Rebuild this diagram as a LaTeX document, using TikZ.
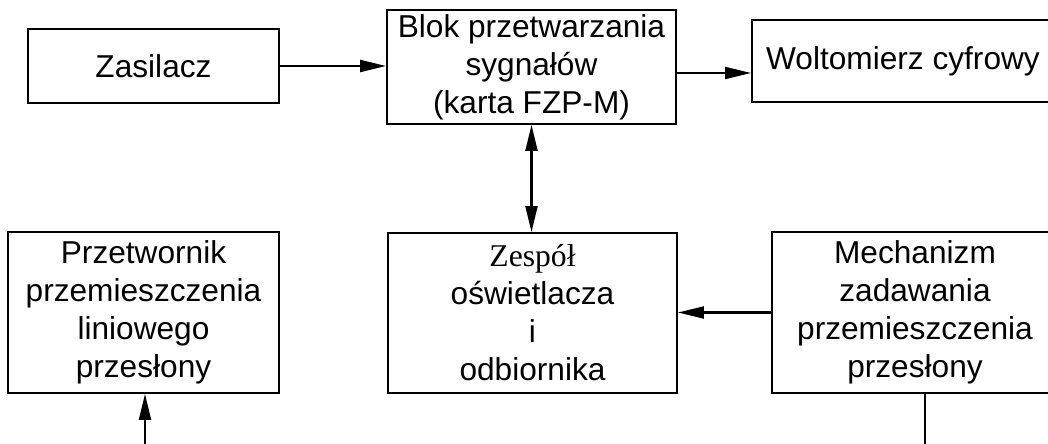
\documentclass[tikz,border=0pt]{standalone}
\usepackage{fontspec}
\setmainfont{Liberation Sans}
\newfontfamily\timesfont{Liberation Serif}
\usetikzlibrary{arrows.meta}

\begin{document}
\begin{tikzpicture}[x=0.025cm, y=-0.025cm,
	box/.style={draw, line width=1.3pt, align=center, inner sep=0pt,
		font=\fontsize{22.5}{27}\selectfont},
	link/.style={line width=1.5pt, -{Triangle[length=6.5mm, width=3mm]}}]

	% frame of the picture
	\useasboundingbox (0,0) rectangle (1048,444);
	\clip (0,0) rectangle (1048,444);

	% upper row
	\node[box, minimum width=6.275cm, minimum height=1.85cm] (zas) at (153.5,66) {Zasilacz};
	\node[box, minimum width=7.225cm, minimum height=2.85cm] (blok) at (531.5,67)
		{Blok przetwarzania\\sygnałów\\(karta FZP-M)};
	\node[box, minimum width=7.55cm, minimum height=2.05cm] (wolt) at (903,61) {Woltomierz cyfrowy};

	% lower row
	\node[box, minimum width=6.775cm, minimum height=4.025cm] (prz) at (143.5,312.5)
		{Przetwornik\\przemieszczenia\\liniowego\\przesłony};
	\node[box, minimum width=7.225cm, minimum height=4.0cm] (zesp) at (532.5,313)
		{{\timesfont Zespół}\\oświetlacza\\i\\odbiornika};
	\node[box, minimum width=7.15cm, minimum height=4.025cm] (mech) at (915,312.5)
		{Mechanizm\\zadawania\\przemieszczenia\\przesłony};

	% free ends below the frame
	\coordinate (p0) at (145,460);
	\coordinate (m0) at (925,460);

	% connections
	\draw[link] (zas.east) -- (zas.east -| blok.west);
	\draw[link] ([yshift=-1.5mm]blok.east) -- ([yshift=-1.5mm]blok.east -| wolt.west);
	\draw[link, {Triangle[length=6.5mm, width=3mm]}-{Triangle[length=6.5mm, width=3mm]}]
		(blok.south) -- (blok.south |- zesp.north);
	\draw[link] (mech.west) -- (mech.west -| zesp.east);
	\draw[line width=1.5pt] (mech.south -| m0) -- (m0);
	\draw[link] (p0) -- (p0 |- prz.south);

\end{tikzpicture}
\end{document}
